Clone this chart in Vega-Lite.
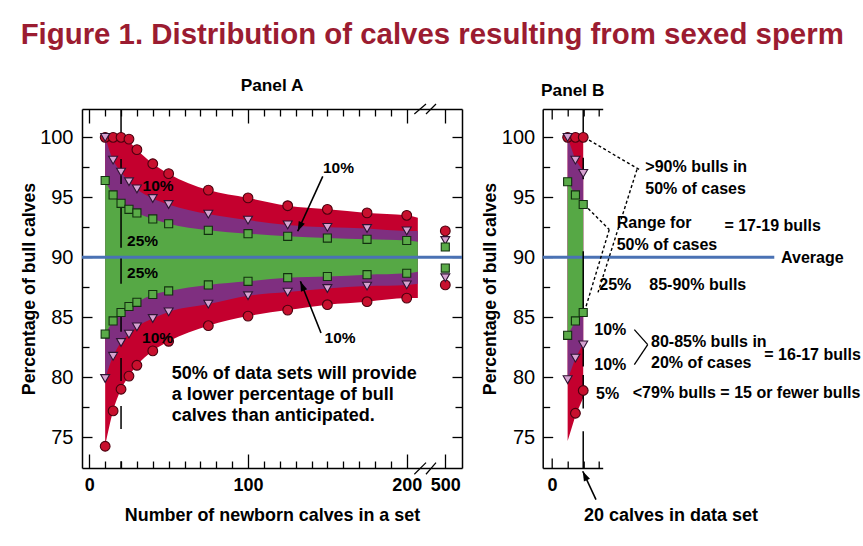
{
"$schema": "https://vega.github.io/schema/vega-lite/v6.json",
"background": "white",
"padding": {"left": 20, "top": 19, "right": 0, "bottom": 0},
"title": {"text": "Figure 1. Distribution of calves resulting from sexed sperm", "anchor": "start", "frame": "bounds", "font": "Liberation Sans", "fontSize": 29.4, "fontWeight": "bold", "color": "#9b1c31", "offset": 27},
"bounds": "flush",
"spacing": 80.7,
"config": {
  "view": {"stroke": null},
  "font": "Liberation Sans",
  "axis": {"domainColor": "#000", "domainWidth": 1.5, "tickColor": "#000", "tickWidth": 1.3, "grid": false, "labelColor": "#000", "titleColor": "#000", "labelFont": "Liberation Sans", "titleFont": "Liberation Sans", "labelOverlap": false, "labelFlush": false, "zindex": 1},
  "text": {"font": "Liberation Sans", "fontWeight": "bold", "color": "#000"}
},
"datasets": {
  "bandA": [
    {"n":10,"r1":100,"p1":100,"g1":96.4,"g2":83.6,"p2":79.9,"r2":74.3},
    {"n":15,"r1":100,"p1":98.1,"g1":95.2,"g2":84.7,"p2":81.75,"r2":77.2},
    {"n":20,"r1":99.9,"p1":97.1,"g1":94.5,"g2":85.4,"p2":82.9,"r2":79.0},
    {"n":25,"r1":99.6,"p1":96.3,"g1":94.0,"g2":85.9,"p2":83.6,"r2":80.1},
    {"n":30,"r1":98.97,"p1":95.7,"g1":93.7,"g2":86.25,"p2":84.2,"r2":81.0},
    {"n":40,"r1":97.8,"p1":94.9,"g1":93.2,"g2":86.9,"p2":84.9,"r2":82.2},
    {"n":50,"r1":96.97,"p1":94.4,"g1":92.8,"g2":87.2,"p2":85.45,"r2":83.0},
    {"n":75,"r1":95.6,"p1":93.6,"g1":92.25,"g2":87.7,"p2":86.1,"r2":84.3},
    {"n":100,"r1":94.95,"p1":93.1,"g1":91.97,"g2":88.0,"p2":86.8,"r2":85.1},
    {"n":125,"r1":94.3,"p1":92.7,"g1":91.75,"g2":88.3,"p2":87.1,"r2":85.6},
    {"n":150,"r1":94.0,"p1":92.5,"g1":91.6,"g2":88.4,"p2":87.4,"r2":86.05},
    {"n":175,"r1":93.7,"p1":92.4,"g1":91.5,"g2":88.55,"p2":87.6,"r2":86.3},
    {"n":200,"r1":93.5,"p1":92.2,"g1":91.4,"g2":88.67,"p2":87.7,"r2":86.6},
    {"n":207,"r1":93.3,"p1":92.2,"g1":91.3,"g2":88.8,"p2":87.8,"r2":86.6}
  ],
  "ptsA": [
    {"n":10,"v":100,"m":"c"},{"n":15,"v":100,"m":"c"},{"n":20,"v":100,"m":"c"},{"n":25,"v":99.85,"m":"c"},{"n":30,"v":98.97,"m":"c"},{"n":40,"v":97.8,"m":"c"},{"n":50,"v":96.97,"m":"c"},{"n":75,"v":95.6,"m":"c"},{"n":100,"v":94.95,"m":"c"},{"n":125,"v":94.3,"m":"c"},{"n":150,"v":94.0,"m":"c"},{"n":175,"v":93.7,"m":"c"},{"n":200,"v":93.5,"m":"c"},{"n":500,"v":92.2,"m":"c"},
    {"n":10,"v":74.25,"m":"c"},{"n":15,"v":77.2,"m":"c"},{"n":20,"v":79.0,"m":"c"},{"n":25,"v":80.1,"m":"c"},{"n":30,"v":81.0,"m":"c"},{"n":40,"v":82.2,"m":"c"},{"n":50,"v":83.0,"m":"c"},{"n":75,"v":84.3,"m":"c"},{"n":100,"v":85.1,"m":"c"},{"n":125,"v":85.6,"m":"c"},{"n":150,"v":86.05,"m":"c"},{"n":175,"v":86.3,"m":"c"},{"n":200,"v":86.6,"m":"c"},{"n":500,"v":87.7,"m":"c"},
    {"n":10,"v":100,"m":"t"},{"n":15,"v":98.1,"m":"t"},{"n":20,"v":97.1,"m":"t"},{"n":25,"v":96.3,"m":"t"},{"n":30,"v":95.7,"m":"t"},{"n":40,"v":94.9,"m":"t"},{"n":50,"v":94.4,"m":"t"},{"n":75,"v":93.6,"m":"t"},{"n":100,"v":93.1,"m":"t"},{"n":125,"v":92.7,"m":"t"},{"n":150,"v":92.5,"m":"t"},{"n":175,"v":92.4,"m":"t"},{"n":200,"v":92.2,"m":"t"},{"n":500,"v":91.4,"m":"t"},
    {"n":10,"v":79.9,"m":"t"},{"n":15,"v":81.75,"m":"t"},{"n":20,"v":82.9,"m":"t"},{"n":25,"v":83.6,"m":"t"},{"n":30,"v":84.2,"m":"t"},{"n":40,"v":84.9,"m":"t"},{"n":50,"v":85.45,"m":"t"},{"n":75,"v":86.1,"m":"t"},{"n":100,"v":86.8,"m":"t"},{"n":125,"v":87.1,"m":"t"},{"n":150,"v":87.4,"m":"t"},{"n":175,"v":87.6,"m":"t"},{"n":200,"v":87.7,"m":"t"},{"n":500,"v":88.3,"m":"t"},
    {"n":10,"v":96.4,"m":"s"},{"n":15,"v":95.2,"m":"s"},{"n":20,"v":94.5,"m":"s"},{"n":25,"v":94.0,"m":"s"},{"n":30,"v":93.7,"m":"s"},{"n":40,"v":93.2,"m":"s"},{"n":50,"v":92.8,"m":"s"},{"n":75,"v":92.25,"m":"s"},{"n":100,"v":91.97,"m":"s"},{"n":125,"v":91.75,"m":"s"},{"n":150,"v":91.6,"m":"s"},{"n":175,"v":91.5,"m":"s"},{"n":200,"v":91.4,"m":"s"},{"n":500,"v":90.86,"m":"s"},
    {"n":10,"v":83.6,"m":"s"},{"n":15,"v":84.7,"m":"s"},{"n":20,"v":85.4,"m":"s"},{"n":25,"v":85.9,"m":"s"},{"n":30,"v":86.25,"m":"s"},{"n":40,"v":86.9,"m":"s"},{"n":50,"v":87.2,"m":"s"},{"n":75,"v":87.7,"m":"s"},{"n":100,"v":88.0,"m":"s"},{"n":125,"v":88.3,"m":"s"},{"n":150,"v":88.4,"m":"s"},{"n":175,"v":88.55,"m":"s"},{"n":200,"v":88.67,"m":"s"},{"n":500,"v":89.1,"m":"s"}
  ],
  "segA": [{"n":20,"a":102.36,"b":100},{"n":20,"a":98.2,"b":96.1},{"n":20,"a":94.3,"b":90.8},{"n":20,"a":89.9,"b":87.8},{"n":20,"a":85.7,"b":83.8},{"n":20,"a":81.6,"b":79.7},{"n":20,"a":77.6,"b":75.7},{"n":20,"a":73.0,"b":72.44}],
  "txtA": [{"x":43.3,"y":95.92,"t":"10%"},{"x":33.6,"y":91.33,"t":"25%"},{"x":33.6,"y":88.69,"t":"25%"},{"x":43.0,"y":83.28,"t":"10%"},{"x":157,"y":97.44,"t":"10%"},{"x":158,"y":83.28,"t":"10%"}],
  "noteA": [{"x":51.9,"y":80.25,"t":"50% of data sets will provide"},{"x":51.9,"y":78.5,"t":"a lower percentage of bull"},{"x":51.9,"y":76.8,"t":"calves than anticipated."}],
  "arrA": [{"x1":147.1,"y1":96.75,"x2":131.3,"y2":92.17},{"x1":146.0,"y1":83.69,"x2":133.0,"y2":88.0}],
  "brkA": [{"x1":204.8,"y1":101.94,"x2":253.4,"y2":102.78},{"x1":253.4,"y1":101.94,"x2":381.2,"y2":102.78},{"x1":204.8,"y1":71.92,"x2":253.4,"y2":72.89},{"x1":253.4,"y1":71.92,"x2":381.2,"y2":72.89}],
  "bandB": [
    {"n":10,"r1":100,"p1":100,"g1":96.3,"g2":83.5,"p2":79.8,"r2":74.7},
    {"n":15,"r1":100,"p1":98.1,"g1":95.2,"g2":84.7,"p2":81.6,"r2":76.8},
    {"n":20,"r1":100,"p1":97.2,"g1":94.5,"g2":85.4,"p2":82.8,"r2":78.3}
  ],
  "ptsB": [
    {"n":10,"v":100,"m":"c"},{"n":15,"v":100,"m":"c"},{"n":20,"v":100,"m":"c"},{"n":15,"v":77.0,"m":"c"},{"n":20,"v":78.9,"m":"c"},
    {"n":10,"v":100,"m":"t"},{"n":15,"v":98.1,"m":"t"},{"n":20,"v":97.0,"m":"t"},{"n":10,"v":79.8,"m":"t"},{"n":15,"v":81.6,"m":"t"},{"n":20,"v":82.7,"m":"t"},
    {"n":10,"v":96.3,"m":"s"},{"n":15,"v":95.2,"m":"s"},{"n":20,"v":94.4,"m":"s"},{"n":10,"v":83.5,"m":"s"},{"n":15,"v":84.7,"m":"s"},{"n":20,"v":85.4,"m":"s"}
  ],
  "segB": [{"n":20,"a":102.36,"b":100},{"n":20,"a":98.3,"b":96.5},{"n":20,"a":90.5,"b":85.4},{"n":20,"a":82.9,"b":80.9},{"n":20,"a":80.2,"b":77.4},{"n":20,"a":75.5,"b":72.44}],
  "dotB": [{"x1":20.7,"y1":100,"x2":56.0,"y2":97.31},{"x1":54.5,"y1":97.33,"x2":29.5,"y2":87.08},{"x1":20.7,"y1":94.39,"x2":36.7,"y2":92.31},{"x1":36.7,"y1":92.31,"x2":20.7,"y2":85.42}],
  "brB": [{"x1":52.8,"y1":83.97,"x2":61.4,"y2":82.72},{"x1":61.4,"y1":82.72,"x2":52.8,"y2":81.06}],
  "txtB": [
    {"x":59.85,"y":97.5,"t":">90% bulls in"},{"x":59.85,"y":95.69,"t":"50% of cases"},
    {"x":41.5,"y":92.86,"t":"Range for"},{"x":41.5,"y":91.06,"t":"50% of cases"},
    {"x":110.6,"y":92.58,"t":"= 17-19 bulls"},{"x":146.95,"y":89.94,"t":"Average"},
    {"x":30.3,"y":87.72,"t":"25%"},{"x":62.4,"y":87.72,"t":"85-90% bulls"},
    {"x":27.1,"y":83.92,"t":"10%"},{"x":27.1,"y":81.06,"t":"10%"},{"x":28.2,"y":78.61,"t":"5%"},
    {"x":63.5,"y":82.92,"t":"80-85% bulls in"},{"x":63.5,"y":81.19,"t":"20% of cases"},
    {"x":136.2,"y":81.89,"t":"= 16-17 bulls"},
    {"x":51.8,"y":78.69,"t":"<79% bulls = 15 or fewer bulls"}
  ],
  "arrB": [{"x1":28.2,"y1":69.81,"x2":19.7,"y2":72.17}]
},
"hconcat": [
  {
    "width": 380, "height": 359,
    "title": {"text": "Panel A", "fontSize": 17.3, "fontWeight": "bold", "offset": 9, "color": "#000"},
    "resolve": {"axis": {"x": "independent", "y": "independent"}},
    "layer": [
      {"data": {"name": "bandA"}, "mark": {"type": "area", "interpolate": "monotone", "color": "#c4002e"},
       "encoding": {
         "x": {"field": "n", "type": "quantitative", "scale": {"domain": [-4.6, 210, 500, 510.5], "range": [0, 340.6, 363.3, 380], "nice": false, "zero": false},
               "axis": {"orient": "bottom", "values": [0,10,20,30,40,50,60,70,80,90,100,110,120,130,140,150,160,170,180,190,200,500], "labelExpr": "datum.value % 100 === 0 ? datum.label : ''", "tickSize": {"condition": {"test": "datum.value % 100 === 0", "value": -14}, "value": -7}, "labelPadding": 22, "labelFontSize": 18, "labelFontWeight": "bold", "title": "Number of newborn calves in a set", "titleFontSize": 17.9, "titleFontWeight": "bold", "titlePadding": 5}},
         "y": {"field": "r1", "type": "quantitative", "scale": {"domain": [72.44, 102.36], "nice": false, "zero": false},
               "axis": {"orient": "left", "values": [75,77.5,80,82.5,85,87.5,90,92.5,95,97.5,100], "labelExpr": "datum.value % 5 === 0 ? datum.label : ''", "tickSize": {"condition": {"test": "datum.value % 5 === 0", "value": -10}, "value": -7}, "labelPadding": 19, "labelFontSize": 20, "labelFontWeight": "normal", "title": "Percentage of bull calves", "titleFontSize": 17.7, "titleFontWeight": "bold", "titleBaseline": "alphabetic", "titlePadding": 5}},
         "y2": {"field": "r2"}}},
      {"data": {"name": "bandA"}, "mark": {"type": "area", "interpolate": "monotone", "color": "#7f2f80"},
       "encoding": {
         "x": {"field": "n", "type": "quantitative", "scale": {"domain": [-4.6, 210, 500, 510.5], "range": [0, 340.6, 363.3, 380], "nice": false, "zero": false},
               "axis": {"orient": "top", "values": [0,10,20,30,40,50,60,70,80,90,100,110,120,130,140,150,160,170,180,190,200,500], "labels": false, "title": null, "tickSize": {"condition": {"test": "datum.value % 100 === 0", "value": -14}, "value": -7}}},
         "y": {"field": "p1", "type": "quantitative", "scale": {"domain": [72.44, 102.36], "nice": false, "zero": false},
               "axis": {"orient": "right", "values": [75,77.5,80,82.5,85,87.5,90,92.5,95,97.5,100], "labels": false, "title": null, "tickSize": {"condition": {"test": "datum.value % 5 === 0", "value": -10}, "value": -7}}},
         "y2": {"field": "p2"}}},
      {"data": {"name": "bandA"}, "mark": {"type": "area", "interpolate": "monotone", "color": "#56a845"},
       "encoding": {
         "x": {"field": "n", "type": "quantitative", "scale": {"domain": [-4.6, 210, 500, 510.5], "range": [0, 340.6, 363.3, 380], "nice": false, "zero": false}, "axis": null},
         "y": {"field": "g1", "type": "quantitative", "scale": {"domain": [72.44, 102.36], "nice": false, "zero": false}, "axis": null},
         "y2": {"field": "g2"}}},
      {"data": {"values": [{}]}, "mark": {"type": "rule", "color": "#4a72b4", "strokeWidth": 3},
       "encoding": {"y": {"datum": 90, "type": "quantitative", "scale": {"domain": [72.44, 102.36], "nice": false, "zero": false}, "axis": null}}},
      {"data": {"name": "segA"}, "mark": {"type": "rule", "color": "#000", "strokeWidth": 1.5},
       "encoding": {
         "x": {"field": "n", "type": "quantitative", "scale": {"domain": [-4.6, 210, 500, 510.5], "range": [0, 340.6, 363.3, 380], "nice": false, "zero": false}, "axis": null},
         "y": {"field": "a", "type": "quantitative", "scale": {"domain": [72.44, 102.36], "nice": false, "zero": false}, "axis": null},
         "y2": {"field": "b"}}},
      {"data": {"name": "brkA"}, "mark": {"type": "rule", "color": "#000", "strokeWidth": 1.2},
       "encoding": {
         "x": {"field": "x1", "type": "quantitative", "scale": {"domain": [-4.6, 210, 500, 510.5], "range": [0, 340.6, 363.3, 380], "nice": false, "zero": false}, "axis": null},
         "y": {"field": "y1", "type": "quantitative", "scale": {"domain": [72.44, 102.36], "nice": false, "zero": false}, "axis": null},
         "x2": {"field": "x2"}, "y2": {"field": "y2"}}},
      {"data": {"name": "ptsA"}, "mark": {"type": "point", "filled": true, "opacity": 1, "strokeWidth": 1.1},
       "encoding": {
         "x": {"field": "n", "type": "quantitative", "scale": {"domain": [-4.6, 210, 500, 510.5], "range": [0, 340.6, 363.3, 380], "nice": false, "zero": false}, "axis": null},
         "y": {"field": "v", "type": "quantitative", "scale": {"domain": [72.44, 102.36], "nice": false, "zero": false}, "axis": null},
         "shape": {"field": "m", "type": "nominal", "scale": {"domain": ["c","t","s"], "range": ["circle","triangle-down","square"]}, "legend": null},
         "fill": {"field": "m", "type": "nominal", "scale": {"domain": ["c","t","s"], "range": ["#c8102e","#d6a2d0","#5aab48"]}, "legend": null},
         "stroke": {"field": "m", "type": "nominal", "scale": {"domain": ["c","t","s"], "range": ["#4a000e","#2e1433","#12300f"]}, "legend": null},
         "size": {"field": "m", "type": "ordinal", "scale": {"domain": ["c","t","s"], "range": [95, 65, 100]}, "legend": null}}},
      {"data": {"name": "txtA"}, "mark": {"type": "text", "fontSize": 15.5, "fontWeight": "bold", "align": "center", "baseline": "middle"},
       "encoding": {
         "x": {"field": "x", "type": "quantitative", "scale": {"domain": [-4.6, 210, 500, 510.5], "range": [0, 340.6, 363.3, 380], "nice": false, "zero": false}, "axis": null},
         "y": {"field": "y", "type": "quantitative", "scale": {"domain": [72.44, 102.36], "nice": false, "zero": false}, "axis": null},
         "text": {"field": "t"}}},
      {"data": {"name": "noteA"}, "mark": {"type": "text", "fontSize": 18, "fontWeight": "bold", "align": "left", "baseline": "middle"},
       "encoding": {
         "x": {"field": "x", "type": "quantitative", "scale": {"domain": [-4.6, 210, 500, 510.5], "range": [0, 340.6, 363.3, 380], "nice": false, "zero": false}, "axis": null},
         "y": {"field": "y", "type": "quantitative", "scale": {"domain": [72.44, 102.36], "nice": false, "zero": false}, "axis": null},
         "text": {"field": "t"}}},
      {"data": {"name": "arrA"}, "mark": {"type": "rule", "color": "#000", "strokeWidth": 1.6},
       "encoding": {
         "x": {"field": "x1", "type": "quantitative", "scale": {"domain": [-4.6, 210, 500, 510.5], "range": [0, 340.6, 363.3, 380], "nice": false, "zero": false}, "axis": null},
         "y": {"field": "y1", "type": "quantitative", "scale": {"domain": [72.44, 102.36], "nice": false, "zero": false}, "axis": null},
         "x2": {"field": "x2"}, "y2": {"field": "y2"}}},
      {"data": {"values": [{"x": 131.3, "y": 92.17}]}, "mark": {"type": "point", "shape": "M0,0L-0.75,2.2L0.75,2.2Z", "filled": true, "color": "#000", "opacity": 1, "size": 80, "angle": 204.5},
       "encoding": {
         "x": {"field": "x", "type": "quantitative", "scale": {"domain": [-4.6, 210, 500, 510.5], "range": [0, 340.6, 363.3, 380], "nice": false, "zero": false}, "axis": null},
         "y": {"field": "y", "type": "quantitative", "scale": {"domain": [72.44, 102.36], "nice": false, "zero": false}, "axis": null}}},
      {"data": {"values": [{"x": 133.0, "y": 88.0}]}, "mark": {"type": "point", "shape": "M0,0L-0.75,2.2L0.75,2.2Z", "filled": true, "color": "#000", "opacity": 1, "size": 80, "angle": 338.2},
       "encoding": {
         "x": {"field": "x", "type": "quantitative", "scale": {"domain": [-4.6, 210, 500, 510.5], "range": [0, 340.6, 363.3, 380], "nice": false, "zero": false}, "axis": null},
         "y": {"field": "y", "type": "quantitative", "scale": {"domain": [72.44, 102.36], "nice": false, "zero": false}, "axis": null}}}
    ]
  },
  {
    "width": 60, "height": 359,
    "title": {"text": "Panel B", "fontSize": 17.3, "fontWeight": "bold", "offset": 9, "color": "#000"},
    "resolve": {"axis": {"x": "independent", "y": "independent"}},
    "layer": [
      {"data": {"name": "bandB"}, "mark": {"type": "area", "color": "#c4002e"},
       "encoding": {
         "x": {"field": "n", "type": "quantitative", "scale": {"domain": [-6, 32.5], "nice": false, "zero": false},
               "axis": {"orient": "bottom", "values": [0,10,20,30], "labelExpr": "datum.value === 0 ? '0' : ''", "tickSize": {"condition": {"test": "datum.value === 0", "value": -10}, "value": -7}, "labelPadding": 18, "labelFontSize": 18, "labelFontWeight": "bold", "title": null}},
         "y": {"field": "r1", "type": "quantitative", "scale": {"domain": [72.44, 102.36], "nice": false, "zero": false},
               "axis": {"orient": "left", "values": [75,77.5,80,82.5,85,87.5,90,92.5,95,97.5,100], "labelExpr": "datum.value % 5 === 0 ? datum.label : ''", "tickSize": {"condition": {"test": "datum.value % 5 === 0", "value": -10}, "value": -7}, "labelPadding": 18, "labelFontSize": 20, "labelFontWeight": "normal", "title": "Percentage of bull calves", "titleFontSize": 17.7, "titleFontWeight": "bold", "titleBaseline": "alphabetic", "titlePadding": 6}},
         "y2": {"field": "r2"}}},
      {"data": {"name": "bandB"}, "mark": {"type": "area", "color": "#7f2f80"},
       "encoding": {
         "x": {"field": "n", "type": "quantitative", "scale": {"domain": [-6, 32.5], "nice": false, "zero": false},
               "axis": {"orient": "top", "values": [0,10,20,30], "labels": false, "title": null, "tickSize": {"condition": {"test": "datum.value === 0", "value": -10}, "value": -7}}},
         "y": {"field": "p1", "type": "quantitative", "scale": {"domain": [72.44, 102.36], "nice": false, "zero": false}, "axis": null},
         "y2": {"field": "p2"}}},
      {"data": {"name": "bandB"}, "mark": {"type": "area", "color": "#56a845"},
       "encoding": {
         "x": {"field": "n", "type": "quantitative", "scale": {"domain": [-6, 32.5], "nice": false, "zero": false}, "axis": null},
         "y": {"field": "g1", "type": "quantitative", "scale": {"domain": [72.44, 102.36], "nice": false, "zero": false}, "axis": null},
         "y2": {"field": "g2"}}},
      {"data": {"values": [{}]}, "mark": {"type": "rule", "color": "#4a72b4", "strokeWidth": 3},
       "encoding": {
         "x": {"datum": -6, "type": "quantitative", "scale": {"domain": [-6, 32.5], "nice": false, "zero": false}, "axis": null},
         "x2": {"datum": 142.6},
         "y": {"datum": 90, "type": "quantitative", "scale": {"domain": [72.44, 102.36], "nice": false, "zero": false}, "axis": null}}},
      {"data": {"name": "segB"}, "mark": {"type": "rule", "color": "#000", "strokeWidth": 1.5},
       "encoding": {
         "x": {"field": "n", "type": "quantitative", "scale": {"domain": [-6, 32.5], "nice": false, "zero": false}, "axis": null},
         "y": {"field": "a", "type": "quantitative", "scale": {"domain": [72.44, 102.36], "nice": false, "zero": false}, "axis": null},
         "y2": {"field": "b"}}},
      {"data": {"name": "dotB"}, "mark": {"type": "rule", "color": "#000", "strokeWidth": 1.4, "strokeDash": [3, 2.5]},
       "encoding": {
         "x": {"field": "x1", "type": "quantitative", "scale": {"domain": [-6, 32.5], "nice": false, "zero": false}, "axis": null},
         "y": {"field": "y1", "type": "quantitative", "scale": {"domain": [72.44, 102.36], "nice": false, "zero": false}, "axis": null},
         "x2": {"field": "x2"}, "y2": {"field": "y2"}}},
      {"data": {"name": "brB"}, "mark": {"type": "rule", "color": "#000", "strokeWidth": 1.3},
       "encoding": {
         "x": {"field": "x1", "type": "quantitative", "scale": {"domain": [-6, 32.5], "nice": false, "zero": false}, "axis": null},
         "y": {"field": "y1", "type": "quantitative", "scale": {"domain": [72.44, 102.36], "nice": false, "zero": false}, "axis": null},
         "x2": {"field": "x2"}, "y2": {"field": "y2"}}},
      {"data": {"name": "ptsB"}, "mark": {"type": "point", "filled": true, "opacity": 1, "strokeWidth": 1.1},
       "encoding": {
         "x": {"field": "n", "type": "quantitative", "scale": {"domain": [-6, 32.5], "nice": false, "zero": false}, "axis": null},
         "y": {"field": "v", "type": "quantitative", "scale": {"domain": [72.44, 102.36], "nice": false, "zero": false}, "axis": null},
         "shape": {"field": "m", "type": "nominal", "scale": {"domain": ["c","t","s"], "range": ["circle","triangle-down","square"]}, "legend": null},
         "fill": {"field": "m", "type": "nominal", "scale": {"domain": ["c","t","s"], "range": ["#c8102e","#d6a2d0","#5aab48"]}, "legend": null},
         "stroke": {"field": "m", "type": "nominal", "scale": {"domain": ["c","t","s"], "range": ["#4a000e","#2e1433","#12300f"]}, "legend": null},
         "size": {"field": "m", "type": "ordinal", "scale": {"domain": ["c","t","s"], "range": [95, 65, 100]}, "legend": null}}},
      {"data": {"name": "txtB"}, "mark": {"type": "text", "fontSize": 16, "fontWeight": "bold", "align": "left", "baseline": "middle"},
       "encoding": {
         "x": {"field": "x", "type": "quantitative", "scale": {"domain": [-6, 32.5], "nice": false, "zero": false}, "axis": null},
         "y": {"field": "y", "type": "quantitative", "scale": {"domain": [72.44, 102.36], "nice": false, "zero": false}, "axis": null},
         "text": {"field": "t"}}},
      {"data": {"values": [{"x": 76.3, "y": 68.42, "t": "20 calves in data set"}]}, "mark": {"type": "text", "fontSize": 18, "fontWeight": "bold", "align": "center", "baseline": "middle"},
       "encoding": {
         "x": {"field": "x", "type": "quantitative", "scale": {"domain": [-6, 32.5], "nice": false, "zero": false}, "axis": null},
         "y": {"field": "y", "type": "quantitative", "scale": {"domain": [72.44, 102.36], "nice": false, "zero": false}, "axis": null},
         "text": {"field": "t"}}},
      {"data": {"name": "arrB"}, "mark": {"type": "rule", "color": "#000", "strokeWidth": 1.6},
       "encoding": {
         "x": {"field": "x1", "type": "quantitative", "scale": {"domain": [-6, 32.5], "nice": false, "zero": false}, "axis": null},
         "y": {"field": "y1", "type": "quantitative", "scale": {"domain": [72.44, 102.36], "nice": false, "zero": false}, "axis": null},
         "x2": {"field": "x2"}, "y2": {"field": "y2"}}},
      {"data": {"values": [{"x": 19.7, "y": 72.17}]}, "mark": {"type": "point", "shape": "M0,0L-0.75,2.2L0.75,2.2Z", "filled": true, "color": "#000", "opacity": 1, "size": 80, "angle": 334.8},
       "encoding": {
         "x": {"field": "x", "type": "quantitative", "scale": {"domain": [-6, 32.5], "nice": false, "zero": false}, "axis": null},
         "y": {"field": "y", "type": "quantitative", "scale": {"domain": [72.44, 102.36], "nice": false, "zero": false}, "axis": null}}}
    ]
  }
]
}
